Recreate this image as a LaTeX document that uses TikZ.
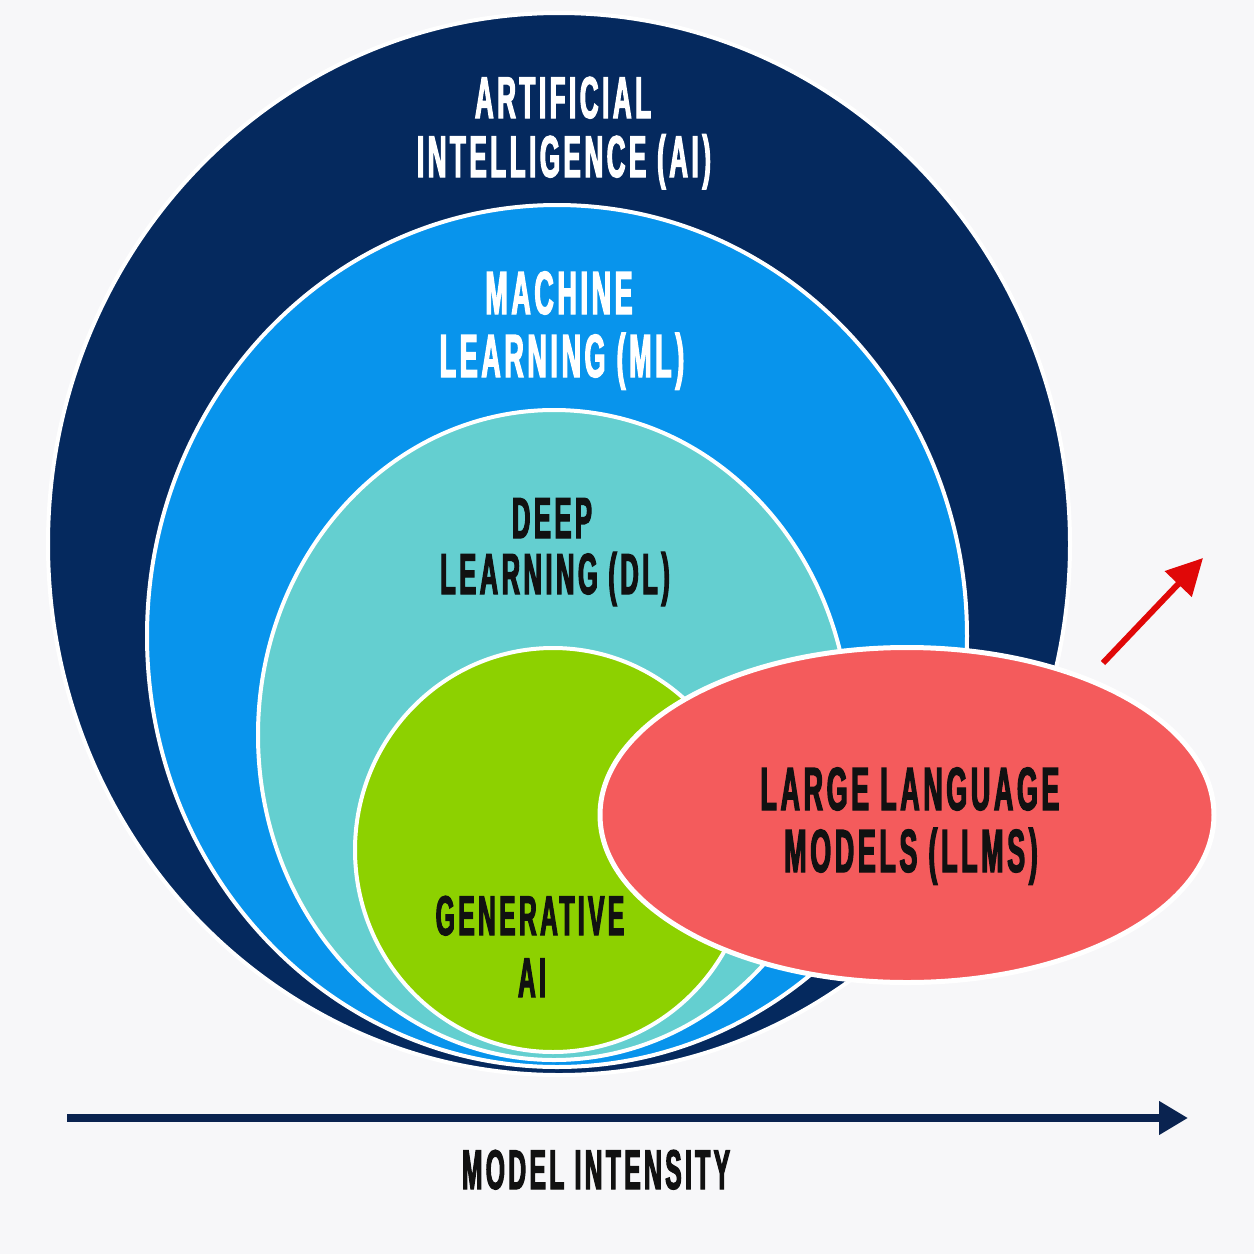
\documentclass[tikz,border=0pt]{standalone}
\usepackage{fontspec}
\usetikzlibrary{shapes.geometric,arrows.meta}
\newfontfamily\condfont[FakeStretch=0.44,FakeBold=2,LetterSpace=6]{Liberation Sans Bold}
\definecolor{bgc}{HTML}{F7F7F9}
\definecolor{navy}{HTML}{05295E}
\definecolor{mlblue}{HTML}{0894EC}
\definecolor{dlteal}{HTML}{64CFD0}
\definecolor{gagreen}{HTML}{8DD100}
\definecolor{llmred}{HTML}{F45B5C}
\definecolor{arrred}{HTML}{E00808}
\definecolor{ink}{HTML}{111111}
\definecolor{axisnavy}{HTML}{0A2350}
\tikzset{
  ring/.style={ellipse, draw=white, line width=4pt, inner sep=0pt, outer sep=0pt},
  lbl/.style={anchor=base, inner sep=0pt, outer sep=0pt},
  fs/.style={font=\condfont\fontsize{#1}{#1}\selectfont}
}
\begin{document}
\begin{tikzpicture}[x=1pt,y=-1pt]
\useasboundingbox (0,0) rectangle (1254,1254);
\fill[bgc] (0,0) rectangle (1254,1254);
% nested sets
\node[ring, fill=navy, minimum width=1022pt, minimum height=1062pt] (ai) at (559,544) {};
\node[ring, fill=mlblue, minimum width=820pt, minimum height=862pt] (ml) at (557,636) {};
\node[ring, fill=dlteal, minimum width=592pt, minimum height=650pt] (dl) at (554,735) {};
\node[ring, fill=gagreen, minimum width=396pt, minimum height=404pt] (ga) at (553,850) {};
\node[ring, fill=llmred, line width=5pt, minimum width=614pt, minimum height=335pt] (llm) at (907,815) {};
% labels
\node[lbl, fs=59, text=white] (ait1) at (563,118) {ARTIFICIAL};
\node[lbl, fs=59, text=white] (ait2) at (564,177) {INTELLIGENCE (AI)};
\node[lbl, fs=61, text=white] (mlt1) at (559,314) {MACHINE};
\node[lbl, fs=61, text=white] (mlt2) at (562,377) {LEARNING (ML)};
\node[lbl, fs=58, text=ink] (dlt1) at (552,538) {DEEP};
\node[lbl, fs=58, text=ink] (dlt2) at (555,594) {LEARNING (DL)};
\node[lbl, fs=56, text=ink] (gat1) at (530,935) {GENERATIVE};
\node[lbl, fs=56, text=ink] (gat2) at (532,997) {AI};
\node[lbl, fs=61, text=ink] (llmt1) at (910,810) {LARGE LANGUAGE};
\node[lbl, fs=61, text=ink] (llmt2) at (911,872) {MODELS (LLMS)};
% red arrow
\coordinate (rs) at (1103,663);
\coordinate (re) at (1203,558);
\draw[arrred, line width=6pt, -{Triangle[length=36pt,width=36pt]}] (rs) -- (re);
% axis
\coordinate (axs) at (67,1118);
\coordinate (axe) at (1188,1118);
\draw[axisnavy, line width=8pt, -{Triangle[length=29pt,width=32pt]}] (axs) -- (axe);
\node[lbl, fs=56, text=ink] (axt) at (596,1189) {MODEL INTENSITY};
\end{tikzpicture}
\end{document}
